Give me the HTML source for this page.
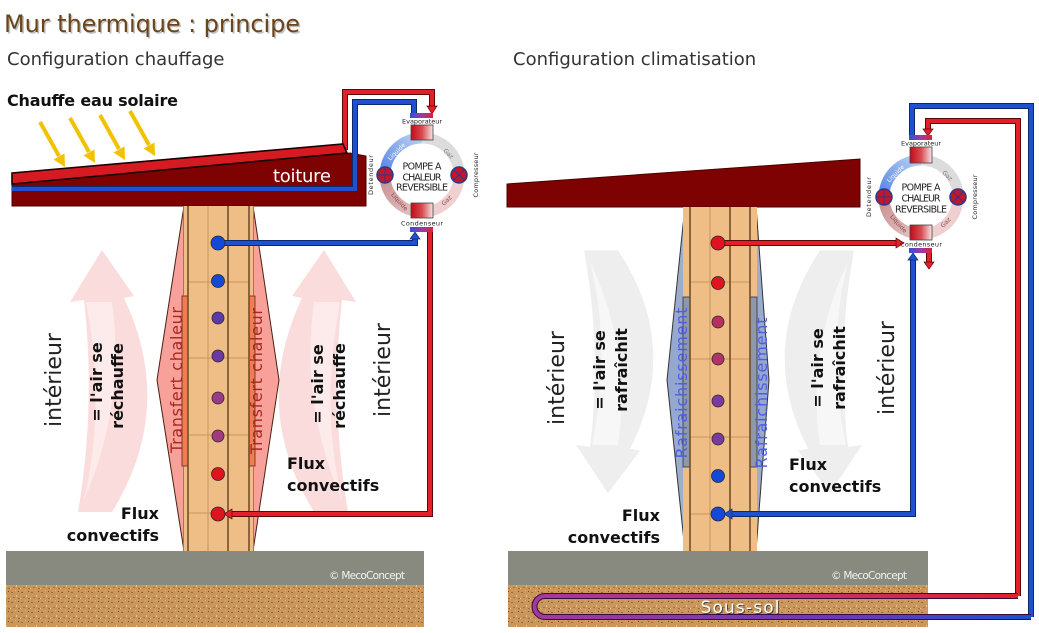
<!DOCTYPE html>
<html>
<head>
<meta charset="utf-8">
<style>
  html,body{margin:0;padding:0;background:#fff;overflow:hidden;}
  svg{display:block;}
  text{font-family:"DejaVu Sans","Liberation Sans",sans-serif;}
</style>
</head>
<body>
<svg width="1039" height="633" viewBox="0 0 1039 633" xmlns="http://www.w3.org/2000/svg">
<defs>
  <pattern id="soil" width="10" height="10" patternUnits="userSpaceOnUse">
    <rect width="10" height="10" fill="#c9975c"/>
    <rect x="1" y="2" width="2" height="1" fill="#9c6a35"/>
    <rect x="6" y="5" width="1" height="2" fill="#e4bf88"/>
    <rect x="3" y="7" width="2" height="1" fill="#a8743e"/>
    <rect x="8" y="1" width="1" height="1" fill="#7a5028"/>
    <rect x="5" y="0" width="1" height="1" fill="#ddb27a"/>
    <rect x="0" y="8" width="1" height="1" fill="#e8c590"/>
    <rect x="8" y="8" width="2" height="1" fill="#a06c38"/>
  </pattern>
  <linearGradient id="box" x1="0" y1="0" x2="1" y2="0">
    <stop offset="0" stop-color="#c00d18"/>
    <stop offset="0.5" stop-color="#d84a50"/>
    <stop offset="1" stop-color="#f6e6e6"/>
  </linearGradient>
  <linearGradient id="bar" x1="0" y1="0" x2="1" y2="0">
    <stop offset="0" stop-color="#2f52d6"/>
    <stop offset="0.5" stop-color="#9a3aa8"/>
    <stop offset="1" stop-color="#e2203a"/>
  </linearGradient>
  <linearGradient id="arcTL" x1="0" y1="1" x2="1" y2="0">
    <stop offset="0" stop-color="#5586e6"/>
    <stop offset="1" stop-color="#bcd0f2"/>
  </linearGradient>
  <linearGradient id="arcBL" x1="1" y1="1" x2="0" y2="0">
    <stop offset="0" stop-color="#e6c4c4"/>
    <stop offset="1" stop-color="#c99090"/>
  </linearGradient>
  <linearGradient id="cool" x1="0" y1="0" x2="0" y2="1">
    <stop offset="0" stop-color="#a7b2c6"/>
    <stop offset="0.5" stop-color="#93a6d2"/>
    <stop offset="1" stop-color="#a7b2c6"/>
  </linearGradient>
  <linearGradient id="loopTop" x1="535" y1="0" x2="1018" y2="0" gradientUnits="userSpaceOnUse">
    <stop offset="0" stop-color="#a03a9e"/>
    <stop offset="0.6" stop-color="#c8306a"/>
    <stop offset="1" stop-color="#e3202a"/>
  </linearGradient>
  <linearGradient id="loopBot" x1="535" y1="0" x2="1031" y2="0" gradientUnits="userSpaceOnUse">
    <stop offset="0" stop-color="#a03a9e"/>
    <stop offset="0.6" stop-color="#6a3ab8"/>
    <stop offset="1" stop-color="#1e50d0"/>
  </linearGradient>
</defs>

<rect width="1039" height="633" fill="#fff"/>

<!-- ===== Titles ===== -->
<text x="5.5" y="33.5" font-size="24" fill="rgba(0,0,0,0.25)" textLength="296">Mur thermique : principe</text>
<text x="4" y="32" font-size="24" fill="#6b4519" textLength="296">Mur thermique : principe</text>
<text x="7" y="65" font-size="18" fill="#333">Configuration chauffage</text>
<text x="513" y="65" font-size="18" fill="#333">Configuration climatisation</text>
<text x="7" y="106" font-size="16" font-weight="bold" fill="#111" textLength="171">Chauffe eau solaire</text>

<!-- ===== Convective arrows ===== -->
<g>
  <path d="M78,512 Q96,406 84,300 L70,302 L102,250 L134,296 L124,298 Q176,408 112,512 Z" fill="#fbdcdc"/>
  <path d="M86,302 Q106,405 84,500 Q126,404 112,302 Z" fill="#fdeaea"/>
</g>
<g transform="translate(426,0) scale(-1,1)">
  <path d="M78,512 Q96,406 84,300 L70,302 L102,250 L134,296 L124,298 Q176,408 112,512 Z" fill="#fbdcdc"/>
  <path d="M86,302 Q106,405 84,500 Q126,404 112,302 Z" fill="#fdeaea"/>
</g>
<g transform="translate(506,725) scale(1,-0.927)">
  <path d="M78,512 Q96,406 84,300 L70,302 L102,250 L134,296 L124,298 Q176,408 112,512 Z" fill="#eeeeee"/>
  <path d="M86,302 Q106,405 84,500 Q126,404 112,302 Z" fill="#f7f7f7"/>
</g>
<g transform="translate(932,725) scale(-1,-0.927)">
  <path d="M78,512 Q96,406 84,300 L70,302 L102,250 L134,296 L124,298 Q176,408 112,512 Z" fill="#eeeeee"/>
  <path d="M86,302 Q106,405 84,500 Q126,404 112,302 Z" fill="#f7f7f7"/>
</g>

<!-- ===== Solar arrows ===== -->
<g stroke="#f2c200" stroke-width="4" fill="#f2c200">
  <line x1="40" y1="122" x2="59" y2="156"/>
  <line x1="70" y1="118" x2="89" y2="152"/>
  <line x1="100" y1="115" x2="119" y2="149"/>
  <line x1="130" y1="111" x2="149" y2="145"/>
</g>
<g fill="#f2c200">
  <polygon points="53.5,159.5 64.5,153.5 65,167"/>
  <polygon points="83.5,155.5 94.5,149.5 95,163"/>
  <polygon points="113.5,152.5 124.5,146.5 125,160"/>
  <polygon points="143.5,148.5 154.5,142.5 155,156"/>
</g>

<!-- ===== Left roof ===== -->
<polygon points="12,184 350,153 366,156 366,206 12,206" fill="#7f0202" stroke="#4a0000" stroke-width="1"/>
<g fill="none">
  <polyline points="345,150 345,92 432,92 432,107" stroke="#5a0808" stroke-width="6"/>
  <polyline points="345,150 345,92 432,92 432,107" stroke="#e3202a" stroke-width="4"/>
  <polyline points="12,189 355,189 355,102 414,102 414,114" stroke="#0a2a70" stroke-width="6"/>
  <polyline points="12,189 355,189 355,102 414,102 414,114" stroke="#1e50d0" stroke-width="4"/>
</g>
<polygon points="427,106 437,106 432,114" fill="#e3202a" stroke="#5a0808" stroke-width="0.7"/>
<polygon points="12,173 343,144 347,153 12,184" fill="#d61a22" stroke="#1a0000" stroke-width="1.6"/>
<text x="273" y="182" font-size="18" fill="#fff" textLength="58">toiture</text>

<!-- ===== Right roof ===== -->
<polygon points="507,184 860,159 860,207 507,207" fill="#7f0202" stroke="#4a0000" stroke-width="1"/>

<!-- ===== Heating wall ===== -->
<polygon points="184,206 157,380 184,551" fill="#f8a19a" stroke="#4a2010" stroke-width="1"/>
<polygon points="253,206 279,380 253,551" fill="#f8a19a" stroke="#4a2010" stroke-width="1"/>
<rect x="183" y="206" width="71" height="345" fill="#efbd86"/>
<rect x="182" y="296" width="6" height="170" fill="#f27b52" stroke="#5a2a10" stroke-width="0.8"/>
<rect x="249" y="296" width="6" height="170" fill="#f27b52" stroke="#5a2a10" stroke-width="0.8"/>
<g stroke="#c9955a" stroke-width="1">
  <line x1="208" y1="206" x2="208" y2="551"/>
  <line x1="188" y1="282" x2="249" y2="282"/>
  <line x1="188" y1="358" x2="249" y2="358"/>
  <line x1="188" y1="435" x2="249" y2="435"/>
  <line x1="188" y1="513" x2="249" y2="513"/>
</g>
<g stroke="#6b4a20" stroke-width="1.5">
  <line x1="188" y1="206" x2="188" y2="551"/>
  <line x1="228" y1="206" x2="228" y2="551"/>
  <line x1="249" y1="206" x2="249" y2="551"/>
</g>
<g stroke="#8a6a40" stroke-width="0.8">
  <line x1="183.5" y1="206" x2="183.5" y2="296"/>
  <line x1="183.5" y1="466" x2="183.5" y2="551"/>
  <line x1="253.5" y1="206" x2="253.5" y2="296"/>
  <line x1="253.5" y1="466" x2="253.5" y2="551"/>
</g>
<text transform="translate(182,380) rotate(-90)" text-anchor="middle" font-size="16" fill="#a8281c" textLength="146">Transfert chaleur</text>
<text transform="translate(262,381) rotate(-90)" text-anchor="middle" font-size="16" fill="#a8281c" textLength="146">Transfert chaleur</text>

<!-- ===== Cooling wall ===== -->
<polygon points="685,206 667,380 685,551" fill="url(#cool)" stroke="#333" stroke-width="1"/>
<polygon points="756,206 769,380 756,551" fill="url(#cool)" stroke="#333" stroke-width="1"/>
<rect x="683" y="207" width="74" height="344" fill="#efbd86"/>
<rect x="683" y="297" width="7" height="170" fill="#8f98aa" stroke="#333" stroke-width="0.8"/>
<rect x="750" y="297" width="7" height="170" fill="#8f98aa" stroke="#333" stroke-width="0.8"/>
<g stroke="#c9955a" stroke-width="1">
  <line x1="710" y1="207" x2="710" y2="551"/>
  <line x1="690" y1="282" x2="750" y2="282"/>
  <line x1="690" y1="359" x2="750" y2="359"/>
  <line x1="690" y1="437" x2="750" y2="437"/>
  <line x1="690" y1="514" x2="750" y2="514"/>
</g>
<g stroke="#6b4a20" stroke-width="1.5">
  <line x1="690" y1="207" x2="690" y2="551"/>
  <line x1="730" y1="207" x2="730" y2="551"/>
  <line x1="750" y1="207" x2="750" y2="551"/>
</g>
<text transform="translate(687,383) rotate(-90)" text-anchor="middle" font-size="16" fill="#4d5fe0" textLength="151">Rafraichissement</text>
<text transform="translate(767,393) rotate(-90)" text-anchor="middle" font-size="16" fill="#4d5fe0" textLength="151">Rafraichissement</text>

<!-- ===== Ground ===== -->
<rect x="6" y="551" width="418" height="34" fill="#888a80"/>
<rect x="6" y="585" width="418" height="42" fill="url(#soil)"/>
<rect x="508" y="551" width="420" height="34" fill="#888a80"/>
<rect x="508" y="585" width="420" height="42" fill="url(#soil)"/>
<text x="329" y="579" font-size="10.5" fill="#f2f2f2" textLength="76">© MecoConcept</text>
<text x="831" y="579" font-size="10.5" fill="#f2f2f2" textLength="76">© MecoConcept</text>

<!-- ===== Heating pipes ===== -->
<g fill="none">
  <polyline points="218,243 415,243 415,238" stroke="#0a2a70" stroke-width="6"/>
  <polyline points="218,243 415,243 415,238" stroke="#1e50d0" stroke-width="4"/>
  <polyline points="430,232 430,514 230,514" stroke="#5a0808" stroke-width="6"/>
  <polyline points="430,232 430,514 230,514" stroke="#e3202a" stroke-width="4"/>
</g>
<polygon points="410,239 420,239 415,232" fill="#1e50d0" stroke="#0a2a70" stroke-width="0.7"/>
<polygon points="232,509 232,519 224,514" fill="#e3202a" stroke="#5a0808" stroke-width="0.7"/>

<!-- ===== Cooling pipes ===== -->
<g fill="none">
  <polyline points="912,137 912,106 1031,106 1031,617" stroke="#0a2a70" stroke-width="6"/>
  <polyline points="912,137 912,106 1031,106 1031,617" stroke="#1e50d0" stroke-width="4"/>
  <polyline points="928,129 928,121 1018,121 1018,596" stroke="#5a0808" stroke-width="6"/>
  <polyline points="928,129 928,121 1018,121 1018,596" stroke="#e3202a" stroke-width="4"/>
  <path d="M1018,596 H545 A10.5,10.5 0 0 0 545,617 H1031" stroke="#3a0a3a" stroke-width="6"/>
  <path d="M1018,596 H545" stroke="url(#loopTop)" stroke-width="4"/>
  <path d="M545,617 H1031" stroke="url(#loopBot)" stroke-width="4"/>
  <path d="M545,596 A10.5,10.5 0 0 0 545,617" stroke="#a03a9e" stroke-width="4"/>
  <polyline points="718,243 897,243" stroke="#5a0808" stroke-width="6"/>
  <polyline points="718,243 897,243" stroke="#e3202a" stroke-width="4"/>
  <polyline points="730,514 913,514 913,259" stroke="#0a2a70" stroke-width="6"/>
  <polyline points="730,514 913,514 913,259" stroke="#1e50d0" stroke-width="4"/>
  <polyline points="929,253 929,262" stroke="#5a0808" stroke-width="6"/>
  <polyline points="929,253 929,262" stroke="#e3202a" stroke-width="4"/>
</g>
<polygon points="923,129 933,129 928,136" fill="#e3202a" stroke="#5a0808" stroke-width="0.7"/>
<polygon points="896,238 896,248 904,243" fill="#e3202a" stroke="#5a0808" stroke-width="0.7"/>
<polygon points="908,260 918,260 913,253" fill="#1e50d0" stroke="#0a2a70" stroke-width="0.7"/>
<polygon points="732,509 732,519 724,514" fill="#1e50d0" stroke="#0a2a70" stroke-width="0.7"/>
<polygon points="924,262 934,262 929,269" fill="#e3202a" stroke="#5a0808" stroke-width="0.7"/>
<text x="741" y="614" text-anchor="middle" font-size="17" fill="#444" textLength="79">Sous-sol</text>
<text x="740" y="613" text-anchor="middle" font-size="17" fill="#fff" textLength="79">Sous-sol</text>

<!-- ===== Dots ===== -->
<g stroke="#2a2a2a" stroke-width="0.8">
  <circle cx="218" cy="243" r="7" fill="#1448d8"/>
  <circle cx="218" cy="281" r="6.5" fill="#1448d8"/>
  <circle cx="218" cy="318" r="6" fill="#5a3aa8"/>
  <circle cx="218" cy="356" r="6" fill="#6a3aa0"/>
  <circle cx="218" cy="398" r="6" fill="#9a3a88"/>
  <circle cx="218" cy="436" r="6" fill="#a23a80"/>
  <circle cx="218" cy="474" r="6.5" fill="#e0141e"/>
  <circle cx="218" cy="514" r="7" fill="#e0141e"/>
  <circle cx="718" cy="243" r="7" fill="#e0141e"/>
  <circle cx="718" cy="283" r="6.5" fill="#e0141e"/>
  <circle cx="718" cy="322" r="6" fill="#b83060"/>
  <circle cx="718" cy="359" r="6" fill="#b03468"/>
  <circle cx="718" cy="401" r="6" fill="#7a3aa0"/>
  <circle cx="718" cy="439" r="6" fill="#7a3aa0"/>
  <circle cx="718" cy="476" r="6.5" fill="#1448d8"/>
  <circle cx="718" cy="514" r="7" fill="#1448d8"/>
</g>

<!-- ===== Heat pumps ===== -->
<g transform="translate(422,175)">
  <g fill="none" stroke-width="11">
    <path d="M-37,0 A37,37 0 0 1 0,-37" stroke="url(#arcTL)"/>
    <path d="M0,-37 A37,37 0 0 1 37,0" stroke="#dcdcdc"/>
    <path d="M37,0 A37,37 0 0 1 0,37" stroke="#efcfcf"/>
    <path d="M0,37 A37,37 0 0 1 -37,0" stroke="url(#arcBL)"/>
  </g>
  <text transform="translate(-24,-22) rotate(-45)" text-anchor="middle" font-size="6" fill="#fff">Liquide</text>
  <text transform="translate(25,-20) rotate(45)" text-anchor="middle" font-size="6" fill="#777">Gaz</text>
  <text transform="translate(-24,28) rotate(48)" text-anchor="middle" font-size="6" fill="#8a4a4a">Liquide</text>
  <text transform="translate(26,27) rotate(-45)" text-anchor="middle" font-size="6" fill="#8a4a4a">Gaz</text>
  <rect x="-12" y="-62" width="23" height="5" fill="url(#bar)"/>
  <rect x="-12" y="52" width="23" height="5" fill="url(#bar)"/>
  <rect x="-11" y="-50" width="22" height="15" fill="url(#box)" stroke="#444" stroke-width="0.8"/>
  <rect x="-11" y="28" width="22" height="15" fill="url(#box)" stroke="#444" stroke-width="0.8"/>
  <text x="0" y="-51.5" text-anchor="middle" font-size="6.5" fill="#222" textLength="40">Evaporateur</text>
  <text x="0" y="50.5" text-anchor="middle" font-size="6.5" fill="#222" textLength="42">Condenseur</text>
  <text transform="translate(-49,0) rotate(-90)" text-anchor="middle" font-size="6.5" fill="#222" textLength="40">Detendeur</text>
  <text transform="translate(56,0) rotate(-90)" text-anchor="middle" font-size="6.5" fill="#222" textLength="45">Compresseur</text>
  <circle cx="-37" cy="0" r="8" fill="#c0182a" stroke="#2a3a8a" stroke-width="1.5"/>
  <circle cx="37" cy="0" r="8" fill="#c0182a" stroke="#2a3a8a" stroke-width="1.5"/>
  <g stroke="#2a3a8a" stroke-width="1">
    <line x1="-45" y1="0" x2="-29" y2="0"/><line x1="-37" y1="-8" x2="-37" y2="8"/>
    <line x1="31.5" y1="-5.5" x2="42.5" y2="5.5"/><line x1="31.5" y1="5.5" x2="42.5" y2="-5.5"/>
  </g>
  <text x="0" y="-5.5" text-anchor="middle" font-size="9.5" fill="#222" textLength="39">POMPE A</text>
  <text x="0" y="5.5" text-anchor="middle" font-size="9.5" fill="#222" textLength="39">CHALEUR</text>
  <text x="0" y="15.5" text-anchor="middle" font-size="9.5" fill="#222" textLength="52">REVERSIBLE</text>
</g>

<g transform="translate(921,197)">
  <g fill="none" stroke-width="11">
    <path d="M-37,0 A37,37 0 0 1 0,-37" stroke="url(#arcTL)"/>
    <path d="M0,-37 A37,37 0 0 1 37,0" stroke="#dcdcdc"/>
    <path d="M37,0 A37,37 0 0 1 0,37" stroke="#efcfcf"/>
    <path d="M0,37 A37,37 0 0 1 -37,0" stroke="url(#arcBL)"/>
  </g>
  <text transform="translate(-24,-22) rotate(-45)" text-anchor="middle" font-size="6" fill="#fff">Liquide</text>
  <text transform="translate(25,-20) rotate(45)" text-anchor="middle" font-size="6" fill="#777">Gaz</text>
  <text transform="translate(-24,28) rotate(48)" text-anchor="middle" font-size="6" fill="#8a4a4a">Liquide</text>
  <text transform="translate(26,27) rotate(-45)" text-anchor="middle" font-size="6" fill="#8a4a4a">Gaz</text>
  <rect x="-12" y="-62" width="23" height="5" fill="url(#bar)"/>
  <rect x="-12" y="51" width="23" height="5" fill="url(#bar)"/>
  <rect x="-11" y="-50" width="22" height="16" fill="url(#box)" stroke="#444" stroke-width="0.8"/>
  <rect x="-11" y="28" width="22" height="15" fill="url(#box)" stroke="#444" stroke-width="0.8"/>
  <text x="0" y="-51.5" text-anchor="middle" font-size="6.5" fill="#222" textLength="40">Evaporateur</text>
  <text x="0" y="49.5" text-anchor="middle" font-size="6.5" fill="#222" textLength="42">Condenseur</text>
  <text transform="translate(-50,0) rotate(-90)" text-anchor="middle" font-size="6.5" fill="#222" textLength="40">Detendeur</text>
  <text transform="translate(56,0) rotate(-90)" text-anchor="middle" font-size="6.5" fill="#222" textLength="45">Compresseur</text>
  <circle cx="-37" cy="0" r="8" fill="#c0182a" stroke="#2a3a8a" stroke-width="1.5"/>
  <circle cx="37" cy="0" r="8" fill="#c0182a" stroke="#2a3a8a" stroke-width="1.5"/>
  <g stroke="#2a3a8a" stroke-width="1">
    <line x1="-45" y1="0" x2="-29" y2="0"/><line x1="-37" y1="-8" x2="-37" y2="8"/>
    <line x1="31.5" y1="-5.5" x2="42.5" y2="5.5"/><line x1="31.5" y1="5.5" x2="42.5" y2="-5.5"/>
  </g>
  <text x="0" y="-6.5" text-anchor="middle" font-size="9.5" fill="#222" textLength="39">POMPE A</text>
  <text x="0" y="4.5" text-anchor="middle" font-size="9.5" fill="#222" textLength="39">CHALEUR</text>
  <text x="0" y="15.5" text-anchor="middle" font-size="9.5" fill="#222" textLength="52">REVERSIBLE</text>
</g>

<!-- ===== Heating labels ===== -->
<text transform="translate(61,380) rotate(-90)" text-anchor="middle" font-size="22" fill="#222">intérieur</text>
<text transform="translate(102,382) rotate(-90)" text-anchor="middle" font-size="16" font-weight="bold" fill="#111">= l'air se</text>
<text transform="translate(123,386) rotate(-90)" text-anchor="middle" font-size="16" font-weight="bold" fill="#111">réchauffe</text>
<text transform="translate(323,384) rotate(-90)" text-anchor="middle" font-size="16" font-weight="bold" fill="#111">= l'air se</text>
<text transform="translate(345,386) rotate(-90)" text-anchor="middle" font-size="16" font-weight="bold" fill="#111">réchauffe</text>
<text transform="translate(390,370) rotate(-90)" text-anchor="middle" font-size="22" fill="#222">intérieur</text>
<text x="287" y="469" font-size="16" font-weight="bold" fill="#111">Flux</text>
<text x="287" y="491" font-size="16" font-weight="bold" fill="#111">convectifs</text>
<text x="159" y="519" text-anchor="end" font-size="16" font-weight="bold" fill="#111">Flux</text>
<text x="159" y="541" text-anchor="end" font-size="16" font-weight="bold" fill="#111">convectifs</text>

<!-- ===== Cooling labels ===== -->
<text transform="translate(564,378) rotate(-90)" text-anchor="middle" font-size="22" fill="#222">intérieur</text>
<text transform="translate(605,370) rotate(-90)" text-anchor="middle" font-size="16" font-weight="bold" fill="#111">= l'air se</text>
<text transform="translate(627,370) rotate(-90)" text-anchor="middle" font-size="16" font-weight="bold" fill="#111">rafraîchit</text>
<text transform="translate(823,368) rotate(-90)" text-anchor="middle" font-size="16" font-weight="bold" fill="#111">= l'air se</text>
<text transform="translate(845,368) rotate(-90)" text-anchor="middle" font-size="16" font-weight="bold" fill="#111">rafraîchit</text>
<text transform="translate(894,368) rotate(-90)" text-anchor="middle" font-size="22" fill="#222">intérieur</text>
<text x="789" y="470" font-size="16" font-weight="bold" fill="#111">Flux</text>
<text x="789" y="492" font-size="16" font-weight="bold" fill="#111">convectifs</text>
<text x="660" y="521" text-anchor="end" font-size="16" font-weight="bold" fill="#111">Flux</text>
<text x="660" y="543" text-anchor="end" font-size="16" font-weight="bold" fill="#111">convectifs</text>
</svg>
</body>
</html>
